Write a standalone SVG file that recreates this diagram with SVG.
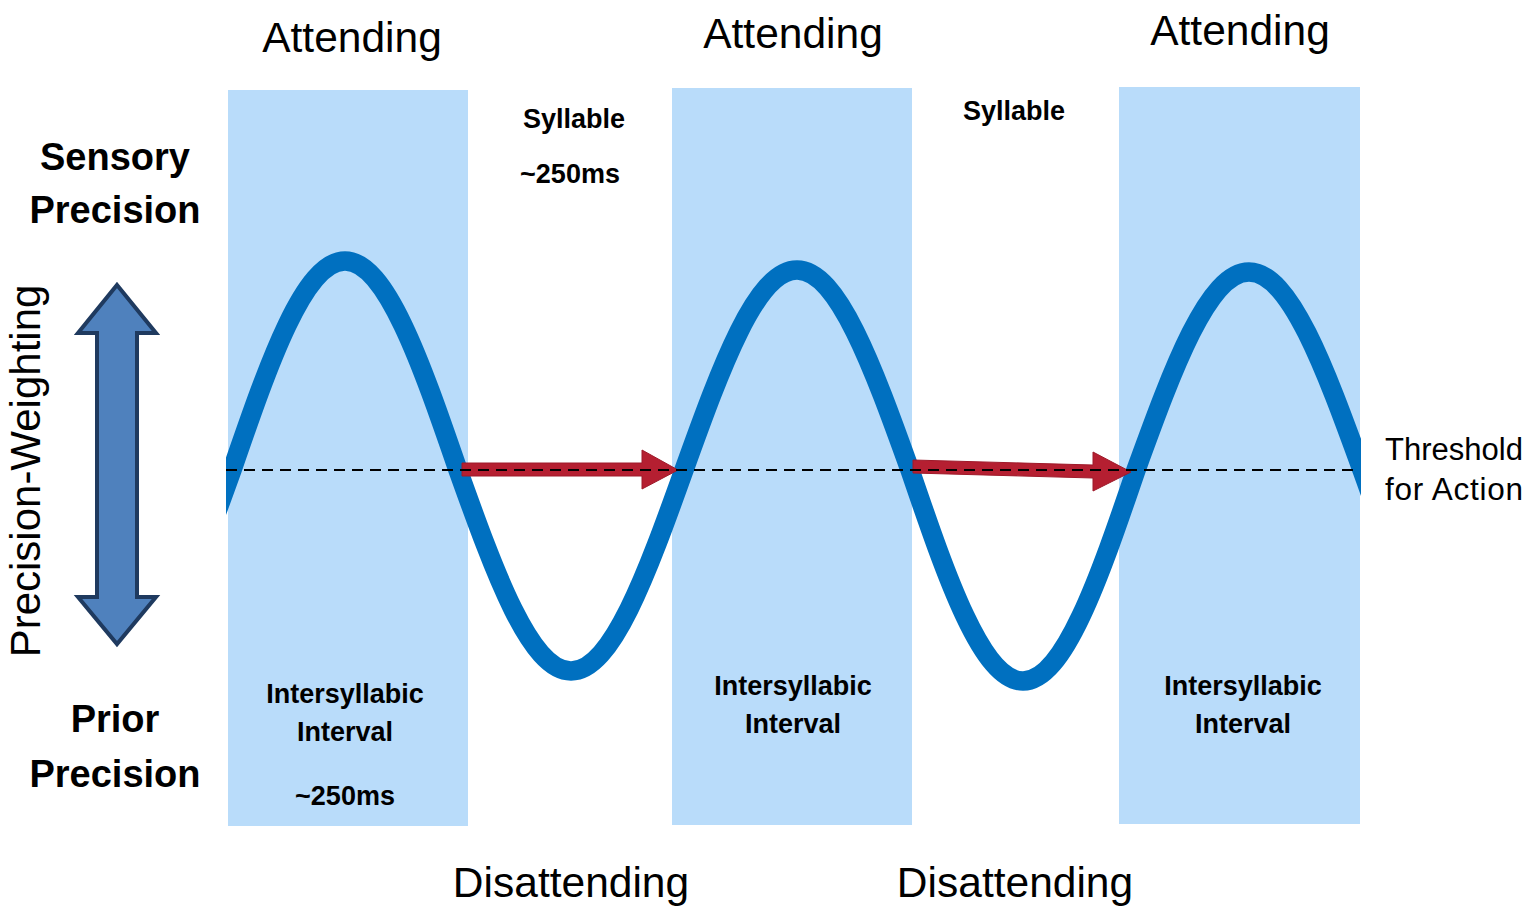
<svg xmlns="http://www.w3.org/2000/svg" width="1536" height="914" viewBox="0 0 1536 914">
<style>
.band{fill:#B9DCFA}
.t{font-family:"Liberation Sans",Arial,sans-serif;fill:#000;text-anchor:middle}
.reg{font-size:42.5px}
.b{font-weight:bold}
.big{font-size:38px;font-weight:bold}
.sm{font-size:27px;font-weight:bold}
.wave{fill:none;stroke:#0070C0;stroke-width:19.5;stroke-linejoin:round}
.red{fill:#B51F31;stroke:#9E1A2A;stroke-width:1}
.dash{stroke:#000;stroke-width:2;stroke-dasharray:11 7;fill:none}
</style>
<defs>
<clipPath id="wclip"><rect x="226" y="0" width="1135" height="914"/></clipPath>
</defs>
<rect width="1536" height="914" fill="#fff"/>
<g id="band1"><rect class="band" x="228" y="90" width="240" height="736"/></g>
<g id="band2"><rect class="band" x="672" y="88" width="240" height="737"/></g>
<g id="band3"><rect class="band" x="1119" y="87" width="241" height="737"/></g>
<g id="wave">
<path class="wave" clip-path="url(#wclip)" d="M 119 670 C 159.9 670 195.15 572.5 232 470 C 268.85 362.9 304.1 261 345 261 C 385.9 261 421.15 362.9 458 470 C 494.85 573 530.1 671 571 671 C 611.9 671 647.15 573 684 470 C 720.85 367.5 756.1 270 797 270 C 837.9 270 873.15 367.5 910 470 C 946.85 578.1 982.1 681 1023 681 C 1063.9 681 1099.15 578.1 1136 470 C 1172.85 368.6 1208.1 272 1249 272 C 1289.9 272 1325.15 368.6 1362 470 C 1398.85 572.5 1434.1 670 1475 670"/>
</g>
<g id="connectors">
<polygon class="red" points="462,463 642,463 642,450 678,470 642,489 642,476 462,476"/>
<polygon class="red" points="913,460 1093,465 1093,452 1131,472 1093,491 1093,478 913,473"/>
<line class="dash" x1="226" y1="470" x2="1360" y2="470"/>
</g>
<g id="double-arrow">
<polygon points="117,285 156,333 137,333 137,597 156,597 117,644 78,597 97,597 97,333 78,333" fill="#4F81BD" stroke="#1F3A5F" stroke-width="4" stroke-linejoin="miter"/>
</g>
<g id="labels">
<text class="t reg" x="352" y="52">Attending</text>
<text class="t reg" x="793" y="48">Attending</text>
<text class="t reg" x="1240" y="45">Attending</text>
<text class="t sm" x="574" y="128">Syllable</text>
<text class="t sm" x="570" y="183">~250ms</text>
<text class="t sm" x="1014" y="120">Syllable</text>
<text class="t big" x="115" y="170">Sensory</text>
<text class="t big" x="115" y="223">Precision</text>
<text class="t big" x="115" y="732">Prior</text>
<text class="t big" x="115" y="787">Precision</text>
<text class="t sm" x="345" y="703">Intersyllabic</text>
<text class="t sm" x="345" y="741">Interval</text>
<text class="t sm" x="345" y="805">~250ms</text>
<text class="t sm" x="793" y="695">Intersyllabic</text>
<text class="t sm" x="793" y="733">Interval</text>
<text class="t sm" x="1243" y="695">Intersyllabic</text>
<text class="t sm" x="1243" y="733">Interval</text>
<text class="t reg" x="571" y="897">Disattending</text>
<text class="t reg" x="1015" y="897">Disattending</text>
<text class="t" style="font-size:31px;text-anchor:start" x="1385" y="460" textLength="138">Threshold</text>
<text class="t" style="font-size:31.5px;text-anchor:start" x="1385" y="500" textLength="138">for Action</text>
<text class="t" style="font-size:42px" transform="translate(40,471) rotate(-90)">Precision-Weighting</text>
</g>
</svg>
